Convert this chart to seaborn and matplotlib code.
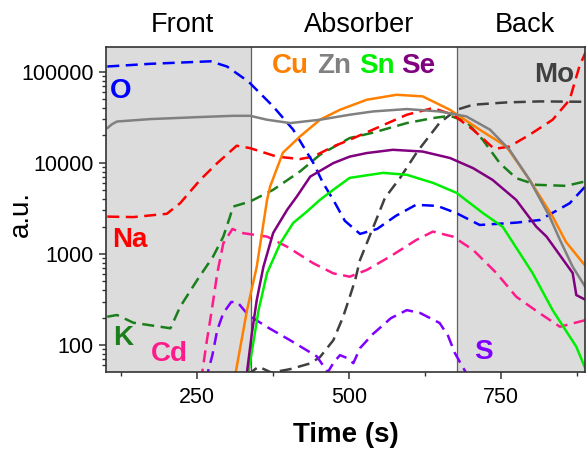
import matplotlib
matplotlib.use("Agg")
import matplotlib.pyplot as plt
import matplotlib.transforms as mtransforms
from matplotlib.ticker import FixedLocator, LogLocator, NullFormatter
import seaborn as sns

# sputter depth profile, counts (a.u.) vs time (s)
FRONT_END = 338
BACK_START = 678
X_RANGE = (100, 888)
Y_RANGE = (51, 188000)

# dashed traces
o_t = [102, 173, 272, 299, 334, 375, 408, 441, 457, 474, 493, 518, 546, 577, 610, 645, 676, 715, 776, 814, 863, 888]
o_v = [114000, 122000, 130000, 114000, 78200, 41600, 23100, 10000, 6030, 3920, 2310, 1660, 1880, 2620, 3460, 3370,
       2820, 2080, 2210, 2360, 3600, 5440]

na_t = [102, 145, 200, 222, 255, 283, 315, 337, 381, 419, 441, 474, 501, 539, 595, 638, 671, 704, 739, 764, 797,
        835, 863, 879, 889]
na_v = [2570, 2540, 2760, 3610, 6510, 9930, 15400, 14500, 11700, 11000, 11700, 15100, 17900, 23100, 33700, 39900,
        33700, 23100, 14200, 15100, 20300, 29700, 49200, 114000, 162000]

k_t = [102, 118, 145, 206, 222, 250, 276, 293, 304, 309, 337, 375, 419, 452, 501, 539, 595, 638, 666, 693, 720,
       748, 775, 808, 857, 888]
k_v = [205, 214, 176, 153, 264, 518, 933, 1550, 2570, 3310, 3760, 5060, 8020, 12250, 18700, 21400, 27300, 31000,
       32800, 28400, 17900, 9930, 6790, 5740, 5590, 6240]

cd_t = [255, 258, 266, 274, 283, 293, 308, 326, 365, 398, 441, 474, 501, 529, 567, 611, 638, 671, 704, 743, 775,
        814, 847, 868, 889]
cd_v = [41, 49, 113, 242, 613, 1310, 1880, 1690, 1550, 1200, 791, 613, 563, 667, 933, 1430, 1760, 1550, 1110, 613,
        340, 223, 159, 173, 188]

s_t = [262, 267, 275, 283, 293, 306, 316, 334, 365, 403, 430, 447, 457, 465, 475, 485, 497, 507, 518, 539, 569,
       595, 617, 649, 663, 674, 686, 696]
s_v = [41, 49, 77.6, 146, 225, 297, 297, 214, 158, 113, 88, 75, 60, 50.5, 65, 77.6, 72, 63.4, 92.7, 132, 198, 242,
       225, 175, 126, 82, 59, 45.6]

mo_t = [332, 351, 372, 403, 436, 452, 474, 490, 501, 510, 518, 538, 559, 584, 612, 649, 677, 704, 759, 814, 880, 888]
mo_v = [46.8, 58, 50, 54.5, 63, 73.8, 113, 203, 337, 518, 860, 1840, 4120, 6840, 13200, 27500, 38200, 43400, 46000,
        47200, 46800, 46800]

# solid traces
zn_t = [102, 110, 118, 173, 255, 309, 337, 365, 403, 452, 501, 539, 595, 649, 693, 732, 764, 797, 830, 847, 868, 889]
zn_v = [24000, 26600, 28400, 30200, 31800, 32800, 32800, 29700, 27300, 29700, 33700, 36600, 38900, 36600, 32300,
        23100, 13900, 6510, 2570, 1430, 724, 433]

cu_t = [311, 332, 348, 365, 370, 391, 419, 452, 485, 529, 578, 621, 666, 715, 759, 797, 835, 857, 890]
cu_v = [41, 242, 724, 3920, 5490, 12900, 19400, 29700, 38200, 49200, 55800, 53600, 38200, 23100, 15100, 6510, 2570,
        1356, 724]

sn_t = [333, 343, 351, 365, 387, 408, 430, 452, 474, 501, 556, 595, 638, 677, 720, 753, 802, 835, 874, 890]
sn_v = [45, 113, 242, 618, 1320, 2190, 2900, 3920, 5060, 6840, 7760, 7390, 6030, 4680, 2820, 1980, 618, 242, 96, 53]

se_t = [331, 340, 348, 359, 375, 398, 414, 436, 474, 501, 529, 572, 621, 666, 704, 736, 775, 808, 825, 868, 874, 890]
se_v = [45, 135, 312, 724, 1700, 3050, 4270, 7060, 9930, 11700, 12800, 13900, 13300, 11300, 8750, 6510, 3920, 1995,
        1550, 618, 354, 312]

y_ticks = [100, 1000, 10000, 100000]
y_tick_labels = ["100", "1000", "10000", "100000"]
x_ticks = [250, 500, 750]
x_minor = [125, 375, 625, 875]

regions = ["Front", "Absorber", "Back"]
region_x = [226, 516, 789]

sns.set_theme(style="white")
plt.rcParams['font.family'] = ['Liberation Sans', 'DejaVu Sans']
plt.rcParams['text.color'] = 'black'
plt.rcParams['axes.labelcolor'] = 'black'
plt.rcParams['xtick.color'] = 'black'
plt.rcParams['ytick.color'] = 'black'

fig, ax = plt.subplots(figsize=(5.86, 4.49), dpi=100)
fig.subplots_adjust(left=0.181, right=0.998, top=0.896, bottom=0.172)

ax.axvspan(X_RANGE[0], FRONT_END, color="#dcdcdc", lw=0, zorder=0)
ax.axvspan(BACK_START, X_RANGE[1] + 10, color="#dcdcdc", lw=0, zorder=0)
for xb in (FRONT_END, BACK_START):
    ax.axvline(xb, color="#606060", lw=0.9, zorder=1)

dash = (0, (4.8, 2.6))
traces = [
    (mo_t, mo_v, "#404040", dash),
    (s_t, s_v, "#8000ff", dash),
    (cd_t, cd_v, "#ff1a8c", dash),
    (k_t, k_v, "#1a7f1a", dash),
    (na_t, na_v, "#ff0000", dash),
    (o_t, o_v, "#0000ff", dash),
    (sn_t, sn_v, "#00ee00", "-"),
    (se_t, se_v, "#800080", "-"),
    (cu_t, cu_v, "#ff8000", "-"),
    (zn_t, zn_v, "#808080", "-"),
]
for t, v, col, ls in traces:
    sns.lineplot(x=t, y=v, ax=ax, color=col, linestyle=ls, lw=1.8, zorder=3)

ax.set_yscale("log")
ax.set_xlim(*X_RANGE)
ax.set_ylim(*Y_RANGE)

ax.yaxis.set_major_locator(FixedLocator(y_ticks))
ax.set_yticklabels(y_tick_labels)
ax.yaxis.set_minor_locator(LogLocator(base=10, subs=range(2, 10)))
ax.yaxis.set_minor_formatter(NullFormatter())
ax.set_xticks(x_ticks)
ax.set_xticks(x_minor, minor=True)

ax.tick_params(axis="both", which="major", direction="out", length=5, width=1.1, color="#333333",
               labelsize=15.5, labelcolor="black", pad=4, left=True, bottom=True)
ax.tick_params(axis="both", which="minor", direction="out", length=3, width=1.0, color="#333333",
               left=True, bottom=True)
ax.tick_params(axis="x", which="major", pad=6)

for sp in ax.spines.values():
    sp.set_color("#333333")
    sp.set_linewidth(1.2)
    sp.set_zorder(5)

ax.set_xlabel("Time (s)", fontsize=20, fontweight="bold")
ax.xaxis.set_label_coords(0.5, -0.155)
ax.set_ylabel("a.u.", fontsize=20)
ax.yaxis.set_label_coords(-0.150, 0.485)

trans = mtransforms.blended_transform_factory(ax.transData, ax.transAxes)
for name, xp in zip(regions, region_x):
    ax.text(xp, 1.068, name, transform=trans, ha="center", va="center", fontsize=19.5)

# element labels
lab = dict(fontsize=20, fontweight="bold", ha="left", va="center", zorder=6)
ax.text(106, 61800, "O", color="#0000ff", **lab)
ax.text(110, 1430, "Na", color="#ff0000", **lab)
ax.text(111, 119, "K", color="#1a7f1a", **lab)
ax.text(174, 79.6, "Cd", color="#ff1a8c", **lab)
ax.text(373, 114000, "Cu", color="#ff8000", **lab)
ax.text(448, 114000, "Zn", color="#808080", **lab)
ax.text(516, 114000, "Sn", color="#00ee00", **lab)
ax.text(585, 114000, "Se", color="#800080", **lab)
ax.text(804, 92700, "Mo", color="#404040", **lab)
ax.text(706, 84.4, "S", color="#8000ff", **lab)

plt.savefig("out.png", dpi=100)
